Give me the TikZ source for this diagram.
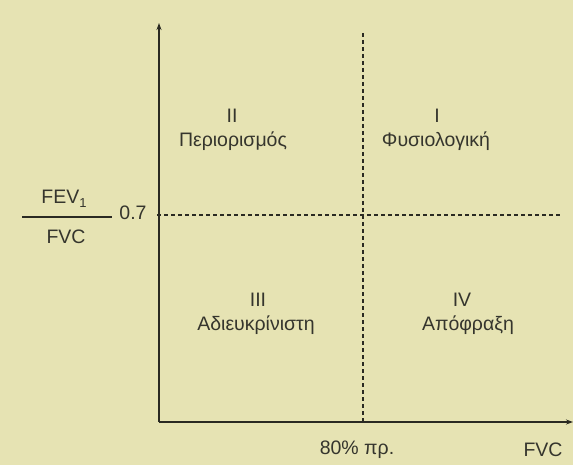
\documentclass[tikz,border=0pt]{standalone}
\usepackage{fontspec}
\setmainfont{Liberation Sans}
\usetikzlibrary{arrows.meta}
\definecolor{bgc}{HTML}{E6E3B3}
\definecolor{ink}{HTML}{2A2A22}
\definecolor{txt}{HTML}{35352D}
\begin{document}
\begin{tikzpicture}[x=1pt,y=-1pt,
  axis/.style={draw=ink,line width=1.2pt,-{Stealth[length=7pt,width=5pt]}},
  dashline/.style={draw=ink,line width=1.2pt,dash pattern=on 4pt off 3pt},
  lbl/.style={text=txt,font=\fontsize{19.5}{22}\selectfont,inner sep=0pt,anchor=center}]
\fill[bgc] (0,0) rectangle (573,465);
\useasboundingbox (0,0) rectangle (573,465);
\coordinate (O) at (159,422);
\coordinate (ytop) at (159,23);
\coordinate (xend) at (573,422);
\coordinate (vtop) at (363,33);
\coordinate (vbot) at (363,422);
\coordinate (hl) at (157,215);
\coordinate (hr) at (561,215);
\draw[dashline] (vtop) -- (vbot);
\draw[dashline] (hl) -- (hr);
\draw[axis] (O) -- (ytop);
\draw[axis] (O) -- (xend);
\node[lbl] (n2) at (232,116) {II};
\node[lbl] (t2) at (233,141) {Περιορισμός};
\node[lbl] (n1) at (437,116) {I};
\node[lbl] (t1) at (436,141) {Φυσιολογική};
\node[lbl] (n3) at (258,300) {III};
\node[lbl] (t3) at (256,325) {Αδιευκρίνιστη};
\node[lbl] (n4) at (462,300) {IV};
\node[lbl] (t4) at (468,325) {Απόφραξη};
\node[lbl] (fev) at (64,199) {FEV\raisebox{-0.35ex}{\fontsize{13}{13}\selectfont 1}};
\node[lbl] (fvc) at (66,237) {FVC};
\coordinate (fbl) at (22,217);
\coordinate (fbr) at (112,217);
\draw[ink,line width=1.2pt] (fbl) -- (fbr);
\node[lbl] (c07) at (133,213) {0.7};
\node[lbl] (p80) at (357,450) {80\% πρ.};
\node[lbl] (xl) at (543,450) {FVC};
\end{tikzpicture}
\end{document}
